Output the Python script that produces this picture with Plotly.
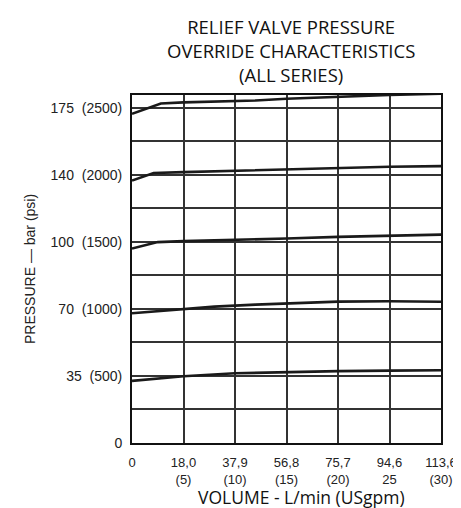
import plotly.graph_objects as go

# x in USgpm, y in psi
x_2500 = [0, 2.8, 5, 12, 15, 20, 25, 30]
y_2500 = [2455, 2532, 2540, 2554, 2567, 2582, 2595, 2604]

x_2000 = [0, 2.1, 5, 12, 15, 20, 25, 30]
y_2000 = [1957, 2013, 2020, 2035, 2042, 2052, 2060, 2065]

x_1500 = [0, 2.5, 5, 12, 15, 20, 25, 30]
y_1500 = [1450, 1498, 1505, 1517, 1525, 1537, 1547, 1554]

x_1000 = [0, 5, 8, 12, 15, 20, 25, 30]
y_1000 = [968, 1001, 1017, 1032, 1042, 1054, 1057, 1053]

x_500 = [0, 5, 10, 15, 20, 25, 30]
y_500 = [463, 498, 520, 530, 536, 540, 542]

x_tickvals = [0, 5, 10, 15, 20, 25, 30]
x_ticktext = ["0", "18,0<br>(5)", "37,9<br>(10)", "56,8<br>(15)",
              "75,7<br>(20)", "94,6<br>25", "113,6<br>(30)"]

y_tickvals = [0, 250, 500, 750, 1000, 1250, 1500, 1750, 2000, 2250, 2500]
y_ticktext = ["0", "", "35\u00a0\u00a0(500)", "", "70\u00a0\u00a0(1000)", "",
              "100\u00a0\u00a0(1500)", "", "140\u00a0\u00a0(2000)", "",
              "175\u00a0\u00a0(2500)"]

fig = go.Figure()
for xs, ys in [(x_2500, y_2500), (x_2000, y_2000), (x_1500, y_1500),
               (x_1000, y_1000), (x_500, y_500)]:
    fig.add_trace(go.Scatter(x=xs, y=ys, mode="lines",
                             line=dict(color="#1a1a1a", width=2.6),
                             showlegend=False, hoverinfo="skip"))

xtick_font = dict(family="Liberation Sans, Arial, sans-serif", size=13, color="#222")
ytick_font = dict(family="Liberation Sans, Arial, sans-serif", size=14, color="#222")

fig.update_layout(
    width=461, height=508,
    margin=dict(l=124, r=22, t=87, b=73),
    plot_bgcolor="white", paper_bgcolor="white",
    xaxis=dict(range=[0, 30], tickvals=x_tickvals, ticktext=x_ticktext,
               showgrid=True, gridcolor="#333", gridwidth=1.5,
               showline=True, mirror=True, linecolor="#111", linewidth=2,
               zeroline=False, ticks="", tickfont=xtick_font,
               ticklabelstandoff=6, fixedrange=True),
    yaxis=dict(range=[0, 2595], tickvals=y_tickvals, ticktext=y_ticktext,
               showgrid=True, gridcolor="#333", gridwidth=1.5,
               showline=True, mirror=True, linecolor="#111", linewidth=2,
               zeroline=False, ticks="", tickfont=ytick_font,
               ticklabelstandoff=5, fixedrange=True),
    annotations=[
        dict(text="RELIEF VALVE PRESSURE<br>OVERRIDE CHARACTERISTICS<br>(ALL SERIES)",
             xref="paper", yref="paper", x=0.514, y=1, xanchor="center",
             yanchor="bottom", yshift=6, showarrow=False, align="center",
             font=dict(family="Open Sans, sans-serif", size=18.5, color="#111")),
        dict(text="VOLUME - L/min (USgpm)",
             xref="paper", yref="paper", x=0.55, y=0, xanchor="center",
             yanchor="top", yshift=-40, showarrow=False,
             font=dict(family="Open Sans, sans-serif", size=17.5, color="#111")),
        dict(text="PRESSURE \u2014 bar (psi)",
             xref="paper", yref="paper", x=0, y=0.5, xanchor="center",
             yanchor="middle", xshift=-102, textangle=-90, showarrow=False,
             font=dict(family="Liberation Sans, Arial, sans-serif", size=14, color="#222")),
    ],
)

fig.write_html("out.html")
